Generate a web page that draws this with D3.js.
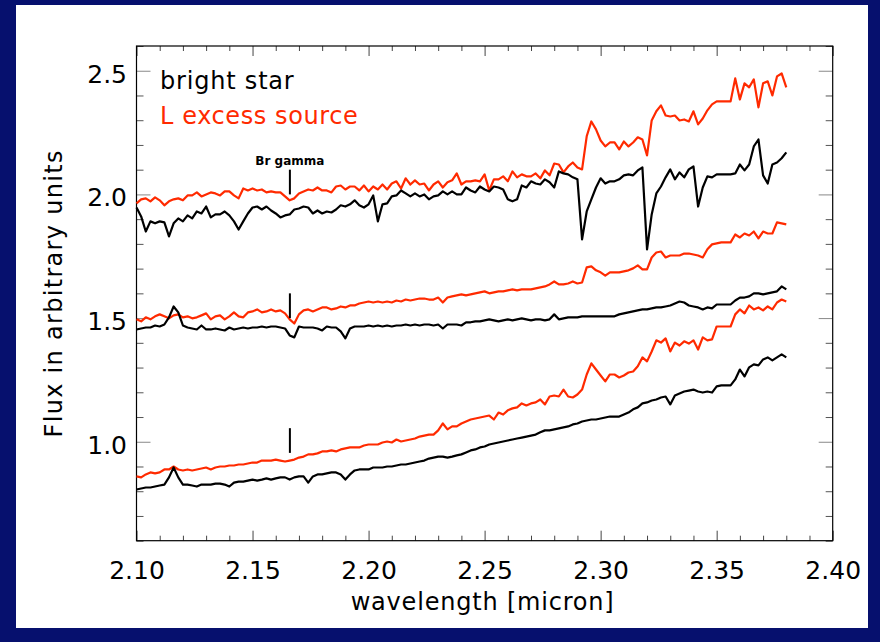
<!DOCTYPE html>
<html>
<head>
<meta charset="utf-8">
<script src="https://cdn.jsdelivr.net/npm/d3@7"></script>
<style>
  html, body { margin: 0; padding: 0; background: #06106e; }
  svg { display: block; }
  text { font-family: "DejaVu Sans", sans-serif; }
</style>
</head>
<body>
<svg id="chart" width="880" height="642"></svg>
<script>
// K-band spectra, one sample every 0.002 micron from 2.100 to 2.380
const waveStart = 2.100;
const waveStep = 0.002;

// upper pair (offset around 2.0)
const brightTop = [
  1.947,1.911,1.850,1.891,1.883,1.891,1.887,1.830,1.883,1.903,
  1.891,1.915,1.903,1.931,1.923,1.951,1.907,1.919,1.919,1.931,
  1.915,1.891,1.858,1.891,1.923,1.947,1.951,1.939,1.951,1.935,
  1.923,1.907,1.915,1.919,1.939,1.943,1.951,1.947,1.923,1.935,
  1.923,1.931,1.927,1.939,1.956,1.951,1.960,1.976,1.956,1.947,
  1.960,1.996,1.891,1.960,1.964,1.992,1.996,2.016,2.004,1.992,
  2.004,1.992,2.000,1.980,1.992,1.996,2.012,2.000,2.012,2.000,
  2.000,2.028,2.016,2.008,2.032,2.020,2.012,2.032,2.028,2.020,
  1.980,1.972,1.980,2.036,2.028,2.053,2.044,2.040,2.061,2.049,
  2.028,2.093,2.085,2.081,2.069,2.061,1.818,1.931,1.980,2.028,
  2.065,2.044,2.053,2.053,2.061,2.077,2.081,2.077,2.097,2.109,
  1.778,1.919,2.004,2.032,2.069,2.101,2.061,2.089,2.069,2.101,
  2.113,1.951,2.028,2.073,2.069,2.081,2.081,2.081,2.081,2.085,
  2.121,2.097,2.121,2.194,2.222,2.077,2.044,2.121,2.129,2.146,2.170
];
const excessTop = [
  1.964,1.980,1.984,1.972,1.988,1.976,1.956,1.972,1.980,1.984,
  1.976,1.996,1.996,2.008,1.992,2.000,2.008,2.004,1.996,2.012,
  2.012,1.996,1.984,2.024,2.016,2.024,2.016,2.020,2.008,2.012,
  2.008,2.008,1.992,1.976,1.984,2.004,2.012,2.020,2.016,2.028,
  2.016,2.016,2.008,2.032,2.036,2.020,2.032,2.032,2.016,2.036,
  2.012,2.032,2.020,2.040,2.020,2.044,2.053,2.024,2.065,2.040,
  2.057,2.040,2.044,2.016,2.040,2.053,2.028,2.049,2.057,2.085,
  2.040,2.053,2.053,2.057,2.053,2.081,2.016,2.061,2.061,2.073,
  2.053,2.093,2.069,2.081,2.073,2.073,2.085,2.065,2.097,2.077,
  2.125,2.121,2.089,2.113,2.129,2.109,2.101,2.235,2.295,2.263,
  2.218,2.194,2.210,2.210,2.182,2.214,2.194,2.210,2.231,2.222,
  2.158,2.299,2.336,2.360,2.319,2.315,2.319,2.299,2.303,2.295,
  2.336,2.283,2.307,2.340,2.364,2.376,2.376,2.376,2.376,2.469,
  2.384,2.449,2.433,2.465,2.352,2.449,2.457,2.400,2.477,2.489,2.433
];

// middle pair (offset around 1.5)
const brightMid = [
  1.454,1.458,1.462,1.462,1.470,1.466,1.474,1.503,1.547,1.523,
  1.470,1.462,1.458,1.454,1.470,1.454,1.454,1.458,1.454,1.450,
  1.462,1.454,1.458,1.462,1.458,1.462,1.462,1.466,1.462,1.466,
  1.466,1.462,1.458,1.430,1.422,1.466,1.462,1.462,1.462,1.458,
  1.450,1.466,1.462,1.462,1.446,1.418,1.458,1.466,1.466,1.466,
  1.470,1.466,1.470,1.466,1.470,1.466,1.470,1.470,1.474,1.470,
  1.474,1.470,1.474,1.474,1.470,1.474,1.458,1.474,1.474,1.474,
  1.470,1.483,1.483,1.487,1.487,1.491,1.495,1.491,1.487,1.491,
  1.495,1.491,1.495,1.499,1.495,1.491,1.495,1.495,1.491,1.495,
  1.515,1.495,1.499,1.503,1.503,1.503,1.507,1.507,1.507,1.507,
  1.507,1.507,1.507,1.507,1.515,1.519,1.523,1.527,1.531,1.535,
  1.535,1.539,1.543,1.543,1.547,1.551,1.559,1.567,1.563,1.551,
  1.547,1.543,1.535,1.543,1.539,1.555,1.555,1.555,1.555,1.571,
  1.583,1.583,1.588,1.600,1.600,1.596,1.600,1.604,1.608,1.628,1.616
];
const excessMid = [
  1.495,1.487,1.503,1.495,1.507,1.515,1.507,1.499,1.511,1.515,
  1.503,1.507,1.499,1.503,1.511,1.519,1.495,1.507,1.511,1.495,
  1.507,1.523,1.507,1.503,1.523,1.527,1.535,1.523,1.527,1.535,
  1.527,1.531,1.519,1.495,1.478,1.515,1.531,1.535,1.527,1.535,
  1.543,1.543,1.535,1.539,1.547,1.543,1.551,1.551,1.559,1.563,
  1.567,1.563,1.567,1.563,1.567,1.563,1.571,1.567,1.575,1.571,
  1.575,1.579,1.579,1.575,1.575,1.583,1.563,1.583,1.588,1.592,
  1.596,1.592,1.596,1.600,1.604,1.608,1.600,1.604,1.608,1.608,
  1.612,1.616,1.612,1.616,1.616,1.616,1.620,1.624,1.628,1.636,
  1.648,1.636,1.636,1.640,1.648,1.640,1.644,1.705,1.709,1.693,
  1.685,1.672,1.685,1.685,1.685,1.689,1.693,1.701,1.713,1.697,
  1.697,1.745,1.765,1.769,1.745,1.753,1.753,1.753,1.761,1.761,
  1.757,1.753,1.745,1.778,1.798,1.802,1.806,1.806,1.806,1.838,
  1.826,1.842,1.834,1.850,1.822,1.850,1.842,1.842,1.887,1.883,1.879
];

// lower pair (offset around 0.85)
const brightLow = [
  0.807,0.811,0.815,0.815,0.819,0.823,0.827,0.856,0.896,0.856,
  0.827,0.827,0.823,0.819,0.827,0.827,0.827,0.831,0.831,0.827,
  0.819,0.835,0.839,0.839,0.843,0.847,0.843,0.847,0.852,0.847,
  0.852,0.856,0.856,0.847,0.856,0.860,0.860,0.835,0.860,0.868,
  0.868,0.872,0.876,0.876,0.868,0.847,0.868,0.884,0.888,0.888,
  0.888,0.896,0.896,0.896,0.900,0.900,0.904,0.908,0.908,0.912,
  0.916,0.920,0.924,0.932,0.936,0.940,0.940,0.936,0.940,0.945,
  0.949,0.957,0.965,0.969,0.977,0.981,0.989,0.993,0.997,1.001,
  1.005,1.009,1.013,1.017,1.021,1.025,1.029,1.038,1.046,1.046,
  1.050,1.054,1.058,1.062,1.070,1.074,1.082,1.086,1.090,1.090,
  1.094,1.098,1.102,1.102,1.102,1.110,1.118,1.131,1.139,1.155,
  1.159,1.167,1.171,1.179,1.183,1.151,1.187,1.195,1.203,1.207,
  1.211,1.203,1.199,1.203,1.199,1.224,1.228,1.228,1.228,1.252,
  1.292,1.264,1.301,1.313,1.309,1.333,1.341,1.329,1.341,1.353,1.341
];
const excessLow = [
  0.860,0.856,0.868,0.876,0.872,0.876,0.888,0.888,0.900,0.888,
  0.884,0.888,0.884,0.888,0.892,0.896,0.888,0.896,0.900,0.900,
  0.904,0.904,0.908,0.908,0.912,0.916,0.916,0.924,0.924,0.924,
  0.928,0.924,0.920,0.924,0.928,0.936,0.940,0.949,0.949,0.953,
  0.961,0.961,0.965,0.961,0.969,0.973,0.977,0.977,0.977,0.985,
  0.989,0.989,0.989,0.997,1.001,0.997,1.009,1.001,1.005,1.009,
  1.013,1.021,1.025,1.029,1.029,1.046,1.074,1.050,1.062,1.062,
  1.074,1.082,1.090,1.094,1.098,1.102,1.106,1.090,1.118,1.110,
  1.127,1.135,1.139,1.155,1.147,1.155,1.159,1.171,1.151,1.183,
  1.187,1.183,1.211,1.183,1.179,1.191,1.211,1.272,1.317,1.292,
  1.268,1.244,1.272,1.272,1.260,1.268,1.280,1.284,1.305,1.341,
  1.325,1.365,1.410,1.401,1.418,1.365,1.401,1.389,1.406,1.397,
  1.410,1.373,1.422,1.410,1.414,1.466,1.466,1.466,1.466,1.515,
  1.535,1.519,1.551,1.535,1.543,1.531,1.547,1.535,1.563,1.575,1.567
];

const xTickValues = [2.10, 2.15, 2.20, 2.25, 2.30, 2.35, 2.40];
const xTickLabels = ["2.10", "2.15", "2.20", "2.25", "2.30", "2.35", "2.40"];
const yTickValues = [1.0, 1.5, 2.0, 2.5];
const yTickLabels = ["1.0", "1.5", "2.0", "2.5"];
const legendLabels = ["bright star", "L excess source"];
const xTitle = "wavelength [micron]";
const yTitle = "Flux in arbitrary units";

// Br gamma line position and the flux span of each marker tick
const brGammaWave = 2.1661;
const brGammaLabel = "Br gamma";
const brGammaMarks = [[2.00, 2.10], [1.50, 1.60], [0.955, 1.055]];

const RED = "#ff2a00";
const BLACK = "#000000";

const svg = d3.select("#chart");

// white page on the navy background
svg.append("rect")
  .attr("x", 16).attr("y", 5)
  .attr("width", 852).attr("height", 623)
  .attr("fill", "#ffffff");

const plot = { left: 136.5, right: 832.7, top: 46, bottom: 540.7 };
const x = d3.scaleLinear().domain([2.10, 2.40]).range([plot.left, plot.right]);
const y = d3.scaleLinear().domain([0.6, 2.6]).range([plot.bottom, plot.top]);

const fmtX = d => xTickLabels[xTickValues.findIndex(v => Math.abs(v - d) < 1e-9)];
const fmtY = d => yTickLabels[yTickValues.findIndex(v => Math.abs(v - d) < 1e-9)];
const xMinor = x.ticks(30).filter(t => !xTickValues.some(v => Math.abs(v - t) < 1e-9));
const yMinor = y.ticks(20).filter(t => !yTickValues.some(v => Math.abs(v - t) < 1e-9));

function styleAxis(g, color) {
  g.select(".domain").remove();
  g.selectAll(".tick line").attr("stroke", color).attr("stroke-width", 1);
}

// bottom axis: labelled majors + minors
svg.append("g").attr("transform", `translate(0,${plot.bottom})`)
  .call(d3.axisBottom(x).tickValues(xTickValues).tickSize(-10).tickFormat(fmtX))
  .call(g => styleAxis(g, "#444"))
  .call(g => g.selectAll(".tick text")
    .attr("y", 38.3).attr("dy", null)
    .attr("fill", "#000").attr("font-size", 25)
    .attr("font-family", "DejaVu Sans, sans-serif"));
svg.append("g").attr("transform", `translate(0,${plot.bottom})`)
  .call(d3.axisBottom(x).tickValues(xMinor).tickSize(-5).tickFormat(""))
  .call(g => styleAxis(g, "#444"));

// top axis
svg.append("g").attr("transform", `translate(0,${plot.top})`)
  .call(d3.axisTop(x).tickValues(xTickValues).tickSize(-10).tickFormat(""))
  .call(g => styleAxis(g, "#444"));
svg.append("g").attr("transform", `translate(0,${plot.top})`)
  .call(d3.axisTop(x).tickValues(xMinor).tickSize(-5).tickFormat(""))
  .call(g => styleAxis(g, "#444"));

// left axis
svg.append("g").attr("transform", `translate(${plot.left},0)`)
  .call(d3.axisLeft(y).tickValues(yTickValues).tickSize(-14).tickFormat(fmtY))
  .call(g => styleAxis(g, "#888"))
  .call(g => g.selectAll(".tick text")
    .attr("x", -9.5).attr("y", 11.5).attr("dy", null)
    .attr("fill", "#000").attr("font-size", 25)
    .attr("font-family", "DejaVu Sans, sans-serif"));
svg.append("g").attr("transform", `translate(${plot.left},0)`)
  .call(d3.axisLeft(y).tickValues(yMinor).tickSize(-7).tickFormat(""))
  .call(g => styleAxis(g, "#555"));

// right axis
svg.append("g").attr("transform", `translate(${plot.right},0)`)
  .call(d3.axisRight(y).tickValues(yTickValues).tickSize(-14).tickFormat(""))
  .call(g => styleAxis(g, "#888"));
svg.append("g").attr("transform", `translate(${plot.right},0)`)
  .call(d3.axisRight(y).tickValues(yMinor).tickSize(-7).tickFormat(""))
  .call(g => styleAxis(g, "#555"));

// frame
svg.append("rect")
  .attr("x", plot.left).attr("y", plot.top)
  .attr("width", plot.right - plot.left).attr("height", plot.bottom - plot.top)
  .attr("fill", "none").attr("stroke", "#000").attr("stroke-width", 1.2);

// spectra
const series = [
  { values: excessTop, color: RED },
  { values: excessMid, color: RED },
  { values: excessLow, color: RED },
  { values: brightTop, color: BLACK },
  { values: brightMid, color: BLACK },
  { values: brightLow, color: BLACK }
];
const line = d3.line()
  .x((d, i) => x(waveStart + i * waveStep))
  .y(d => y(d));

svg.append("g").selectAll("path")
  .data(series)
  .join("path")
  .attr("d", s => line(s.values))
  .attr("fill", "none")
  .attr("stroke", s => s.color)
  .attr("stroke-width", 2.2)
  .attr("stroke-linejoin", "round");

// Br gamma markers
svg.append("g").selectAll("line")
  .data(brGammaMarks)
  .join("line")
  .attr("x1", x(brGammaWave)).attr("x2", x(brGammaWave))
  .attr("y1", d => y(d[0])).attr("y2", d => y(d[1]))
  .attr("stroke", "#000").attr("stroke-width", 2);

svg.append("text")
  .attr("x", x(brGammaWave)).attr("y", y(brGammaMarks[0][1]) - 5)
  .attr("text-anchor", "middle")
  .attr("font-size", 12).attr("font-weight", "bold")
  .attr("fill", "#000")
  .text(brGammaLabel);

// legend
svg.append("text")
  .attr("x", 160).attr("y", 89)
  .attr("font-size", 24).attr("letter-spacing", 0.8)
  .attr("fill", BLACK)
  .text(legendLabels[0]);
svg.append("text")
  .attr("x", 160).attr("y", 124)
  .attr("font-size", 24).attr("letter-spacing", 0.6)
  .attr("fill", RED)
  .text(legendLabels[1]);

// axis titles
svg.append("text")
  .attr("x", (plot.left + plot.right) / 2 - 2).attr("y", 610)
  .attr("text-anchor", "middle")
  .attr("font-size", 24).attr("letter-spacing", 0.8)
  .attr("fill", "#000")
  .text(xTitle);
svg.append("text")
  .attr("transform", `translate(62,${(plot.top + plot.bottom) / 2}) rotate(-90)`)
  .attr("text-anchor", "middle")
  .attr("font-size", 24).attr("letter-spacing", 1.3)
  .attr("fill", "#000")
  .text(yTitle);
</script>
</body>
</html>
